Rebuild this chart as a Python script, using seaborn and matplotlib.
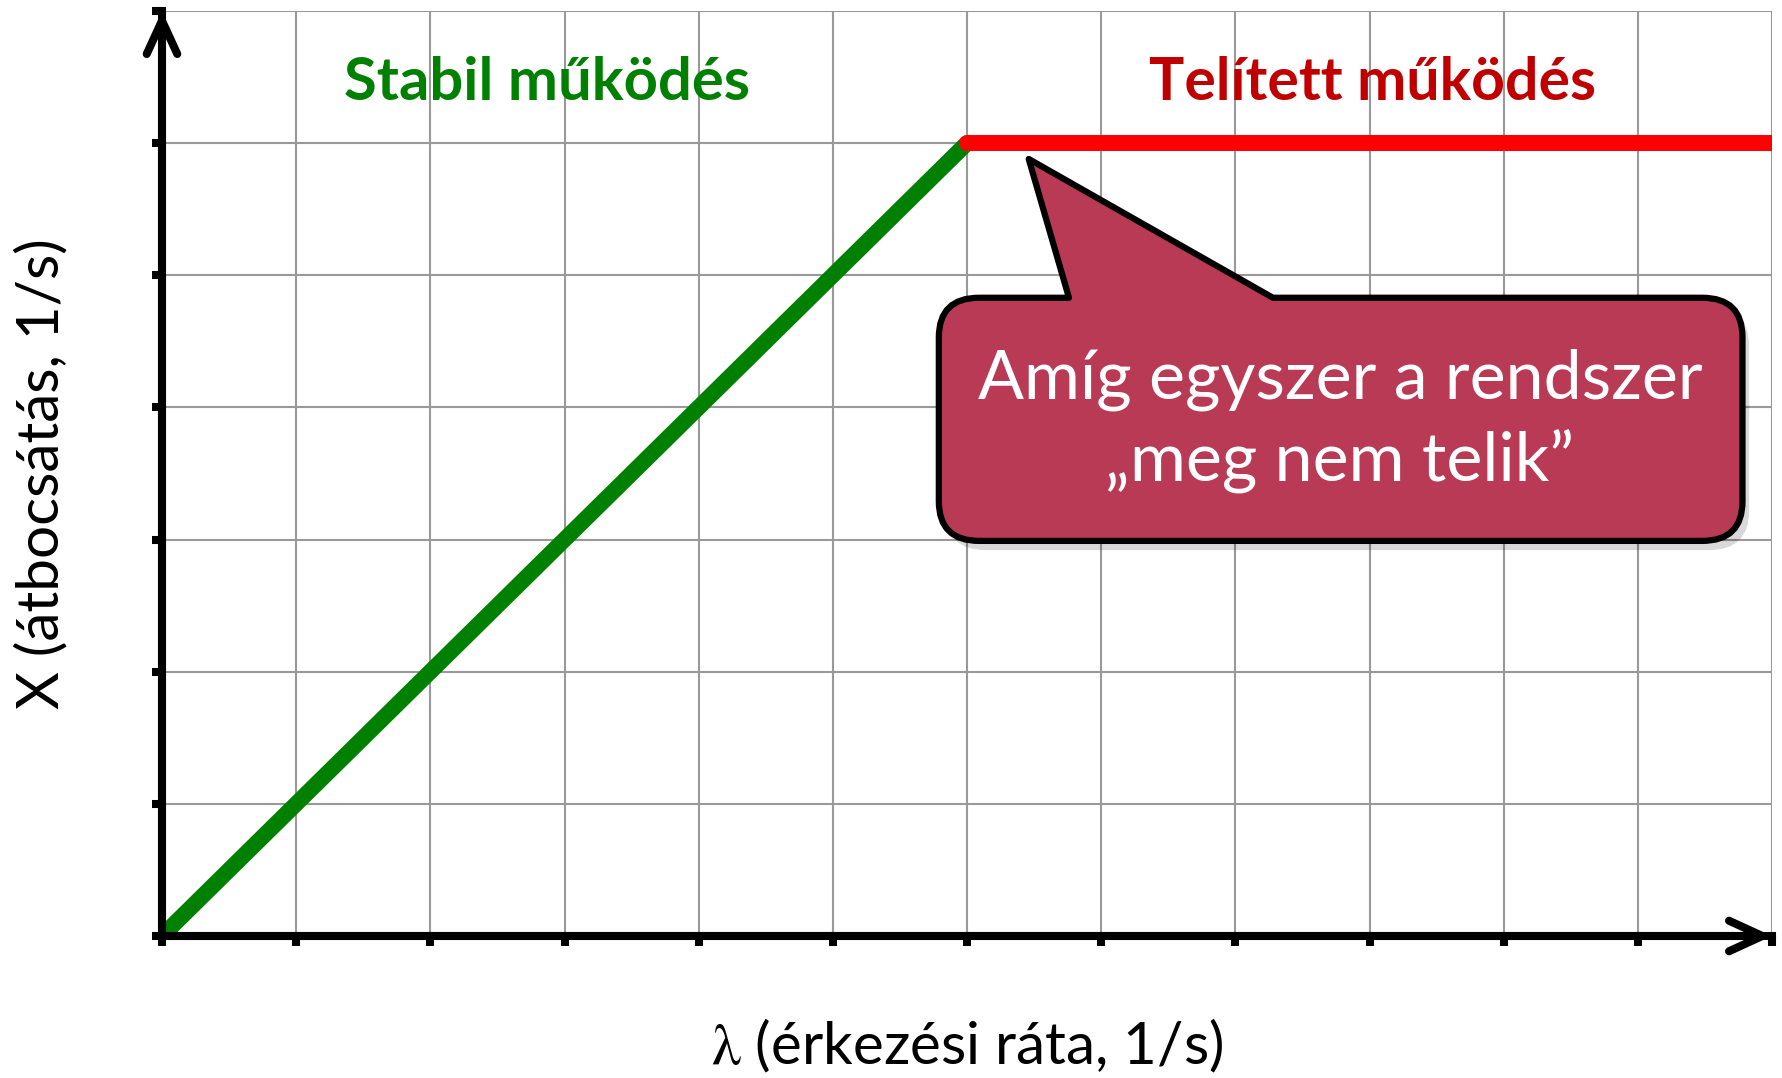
import matplotlib.pyplot as plt
import numpy as np
import pandas as pd
import seaborn as sns
from matplotlib.patches import PathPatch
from matplotlib.path import Path

# data
stable_x = [0, 6]
stable_y = [0, 6]
saturated_x = [6, 12]
saturated_y = [6, 6]
x_ticks = list(range(0, 13))
y_ticks = list(range(0, 8))

stable = pd.DataFrame({"rate": stable_x, "throughput": stable_y})
saturated = pd.DataFrame({"rate": saturated_x, "throughput": saturated_y})

sns.set_theme(style="whitegrid")
plt.rcParams["font.family"] = ["Lato", "DejaVu Sans"]
plt.rcParams["mathtext.fontset"] = "stix"

fig = plt.figure(figsize=(17.83, 10.78), dpi=100)
ax = fig.add_axes([0.09086, 0.13173, 0.90297, 0.85807])

sns.lineplot(data=stable, x="rate", y="throughput", color="#008000",
             lw=11.5, solid_capstyle="round", ax=ax, zorder=3)
sns.lineplot(data=saturated, x="rate", y="throughput", color="#ff0000",
             lw=11.5, solid_capstyle="round", ax=ax, zorder=4)

ax.set_xlim(0, 12)
ax.set_ylim(0, 7)
ax.set_xticks(x_ticks)
ax.set_yticks(y_ticks)
ax.set_xticklabels([])
ax.set_yticklabels([])
ax.grid(True, color="#999999", lw=1.5)
ax.tick_params(axis="both", direction="out", length=7, width=5.8,
               color="black", bottom=True, left=True)

for side in ["top", "right"]:
    ax.spines[side].set_visible(False)
for side in ["left", "bottom"]:
    ax.spines[side].set_color("black")
    ax.spines[side].set_linewidth(5.8)
    ax.spines[side].set_zorder(6)

# arrow heads on the axes
arrow_kw = dict(arrowstyle="->, head_length=1.2, head_width=0.55", lw=5.8,
                color="black", shrinkA=0, shrinkB=0, mutation_scale=20,
                capstyle="round", joinstyle="round")
ax.annotate("", xy=(1, 0), xytext=(0, 0), xycoords="axes fraction",
            arrowprops=arrow_kw, annotation_clip=False, zorder=7)
ax.annotate("", xy=(0, 1), xytext=(0, 0), xycoords="axes fraction",
            arrowprops=arrow_kw, annotation_clip=False, zorder=7)

# region titles
ax.text(2.87, 6.33, "Stabil működés", color="#008000", fontsize=43,
        fontweight="bold", ha="center", va="baseline")
ax.text(9.02, 6.33, "Telített működés", color="#c00000", fontsize=42.5,
        fontweight="bold", ha="center", va="baseline")

# callout bubble
bl, br, bb, bt = 5.79, 11.78, 2.99, 4.83
r = 0.3
verts = [
    (8.28, bt), (br - r, bt), (br, bt), (br, bt - r),
    (br, bb + r), (br, bb), (br - r, bb),
    (bl + r, bb), (bl, bb), (bl, bb + r),
    (bl, bt - r), (bl, bt), (bl + r, bt),
    (6.76, bt), (6.46, 5.88), (8.28, bt),
]
codes = [Path.MOVETO, Path.LINETO, Path.CURVE3, Path.CURVE3,
         Path.LINETO, Path.CURVE3, Path.CURVE3,
         Path.LINETO, Path.CURVE3, Path.CURVE3,
         Path.LINETO, Path.CURVE3, Path.CURVE3,
         Path.LINETO, Path.LINETO, Path.CLOSEPOLY]
bubble = Path(verts, codes)
shadow = Path(np.array(verts) + np.array([0.05, -0.07]), codes)
ax.add_patch(PathPatch(shadow, facecolor="black", edgecolor="none",
                       alpha=0.15, zorder=8))
ax.add_patch(PathPatch(bubble, facecolor="#b83a55", edgecolor="black",
                       lw=4.5, joinstyle="round", zorder=9))
ax.text(8.78, 3.90, "Amíg egyszer a rendszer\n„meg nem telik”", color="white",
        fontsize=49, ha="center", va="center", linespacing=1.34, zorder=10)

ax.set_xlabel(r"$\mathrm{\lambda}$ (érkezési ráta, 1/s)", fontsize=42,
              color="black")
ax.set_ylabel("X (átbocsátás, 1/s)", fontsize=42, color="black")
ax.xaxis.set_label_coords(0.5, -0.119)
ax.xaxis.label.set_verticalalignment("center")
ax.yaxis.set_label_coords(-0.075, 0.5)
ax.yaxis.label.set_verticalalignment("center")

fig.savefig("out.png", dpi=100, facecolor="white")
